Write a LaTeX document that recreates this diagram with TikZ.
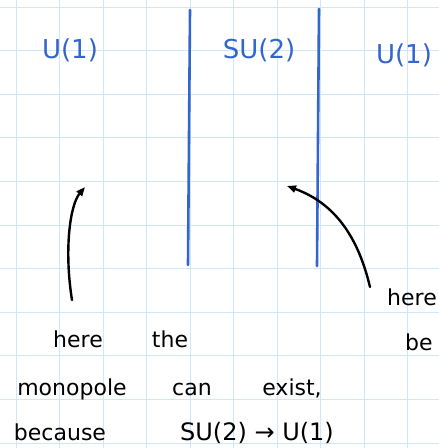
\documentclass[tikz,border=0pt]{standalone}
\usepackage{fontspec}
\setmainfont{DejaVu Sans}
\usetikzlibrary{arrows.meta,positioning}
\definecolor{gridblue}{HTML}{CFE7F8}
\definecolor{penblue}{HTML}{3366CC}

\begin{document}
\begin{tikzpicture}[x=1pt,y=-1pt,
  wall/.style={penblue,line width=2.6pt,line cap=round},
  grp/.style={penblue,font=\fontsize{26}{26}\selectfont,inner sep=0pt,anchor=base},
  note/.style={black,font=\fontsize{22}{22}\selectfont,inner sep=0pt,anchor=base},
  pointer/.style={black,line width=2.4pt,line cap=round,-{Triangle[length=9pt,width=7pt]}}]
  \useasboundingbox (0,0) rectangle (439,448);
  \clip (0,0) rectangle (439,448);
  \fill[white] (0,0) rectangle (439,448);
  % squared paper
  \foreach \k in {0,...,9}
    \draw[gridblue,line width=1pt] ({16+43.5*\k},0) -- ({16+43.5*\k},448);
  \foreach \k in {0,...,10}
    \draw[gridblue,line width=1pt] (0,{7+43.6*\k}) -- (439,{7+43.6*\k});

  % the two walls
  \coordinate (wallAtop) at (190,10);
  \coordinate (wallAbot) at (188,265);
  \coordinate (wallBtop) at (319,9);
  \coordinate (wallBbot) at (317,266);
  \draw[wall] (wallAtop) -- (wallAbot);
  \draw[wall] (wallBtop) -- (wallBbot);

  \node[grp] (uLeft) at (70,58) {U(1)};
  \node[grp] (suMid) at (259,58) {SU(2)};
  \node[grp] (uRight) at (404,63) {U(1)};

  % notes
  \node[note] (hereL) at (78,347) {here};
  \node[note] (the) at (170,347) {the};
  \node[note] (monopole) at (72,395) {monopole};
  \node[note] (can) at (192,395) {can};
  \node[note] (exist) at (292,395) {exist,};
  \node[note] (because) at (60,440) {because};
  \node[note,font=\fontsize{24}{24}\selectfont] (breaking) at (257,440) {SU(2) → U(1)};
  \node[note,anchor=base east] (hereR) at (437,305) {here};
  \node[note,anchor=base west] (beR) at (405,350) {be};

  % arrows
  \coordinate (startL) at (72,300);
  \coordinate (tipL) at (85,187);
  \coordinate (startR) at (370,287);
  \coordinate (tipR) at (287,186);
  \draw[pointer] (startL) .. controls (64,250) and (70,205) .. (tipL);
  \draw[pointer] (startR) .. controls (360,245) and (340,205) .. (tipR);
\end{tikzpicture}
\end{document}
